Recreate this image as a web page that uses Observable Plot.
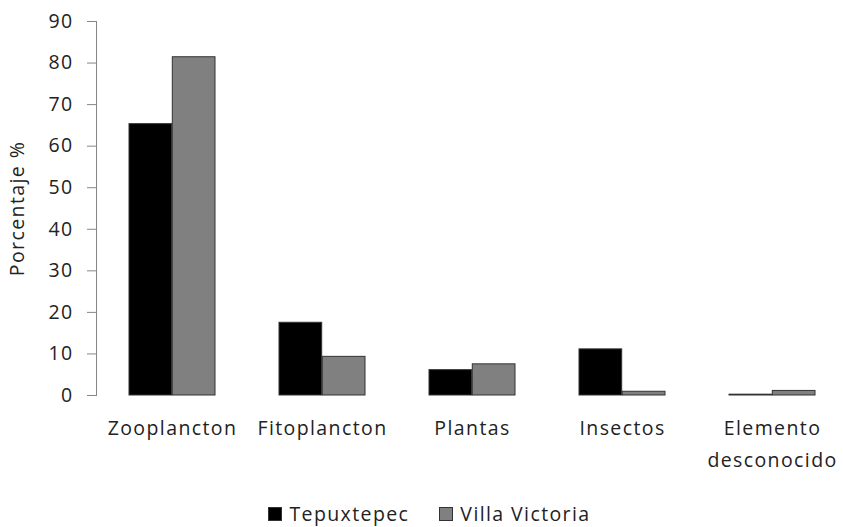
<!DOCTYPE html>
<html>
<head>
<meta charset="utf-8">
<script src="https://cdn.jsdelivr.net/npm/d3@7"></script>
<script src="https://cdn.jsdelivr.net/npm/@observablehq/plot@0.6"></script>
<style>
  html, body { margin: 0; padding: 0; background: #ffffff; }
  body { width: 843px; height: 527px; overflow: hidden; font-family: "Open Sans", sans-serif; }
  #chart svg text { letter-spacing: 1.4px; }
  #legend { box-sizing: border-box; display: flex; justify-content: center; align-items: center; gap: 30px; height: 37px; padding-top: 10px; padding-left: 16px; font-size: 19.5px; letter-spacing: 1.4px; color: #222; }
  .item { display: flex; align-items: center; gap: 7px; }
  .sw { width: 12px; height: 12px; border: 1px solid #333; }
</style>
</head>
<body>
<div id="chart"></div>
<div id="legend"></div>
<script>
const categories = ["Zooplancton", "Fitoplancton", "Plantas", "Insectos", "Elemento\ndesconocido"];
const seriesNames = ["Tepuxtepec", "Villa Victoria"];
const tepuxtepec = [65.3, 17.5, 6.1, 11.1, 0.2];
const villaVictoria = [81.4, 9.3, 7.5, 0.9, 1.1];
const yTicks = [0, 10, 20, 30, 40, 50, 60, 70, 80, 90];
const colors = ["#000000", "#808080"];

const dataT = categories.map((c, i) => ({category: c, value: tepuxtepec[i]}));
const dataV = categories.map((c, i) => ({category: c, value: villaVictoria[i]}));

const half = 43.3;
const chart = Plot.plot({
  width: 843,
  height: 490,
  marginTop: 21,
  marginBottom: 95,
  marginLeft: 96,
  marginRight: 0,
  style: {fontFamily: "Open Sans, sans-serif", fontSize: "19.5px", color: "#222", background: "#ffffff"},
  x: {domain: categories, range: [96, 849], paddingInner: 0.425, paddingOuter: 0.2125},
  y: {domain: [0, 90], range: [395, 21]},
  marks: [
    Plot.frame({anchor: "left", stroke: "#868686"}),
    Plot.axisY({ticks: yTicks, tickSize: 9, tickPadding: 14, stroke: "#868686", fill: "#222", fontSize: 19.5,
      label: "Porcentaje %", labelAnchor: "center", labelArrow: false, labelOffset: 86}),
    Plot.axisX({tickSize: 0, tickPadding: 17, fontSize: 19.5, fill: "#222", lineHeight: 1.62, label: null}),
    Plot.barY(dataT, {x: "category", y: "value", fill: colors[0], stroke: "#333", strokeWidth: 1, insetRight: half}),
    Plot.barY(dataV, {x: "category", y: "value", fill: colors[1], stroke: "#333", strokeWidth: 1, insetLeft: half})
  ]
});
document.getElementById("chart").appendChild(chart);

const legend = document.getElementById("legend");
seriesNames.forEach((s, i) => {
  const it = document.createElement("div");
  it.className = "item";
  it.innerHTML = `<span class="sw" style="background:${colors[i]}"></span><span>${s}</span>`;
  legend.appendChild(it);
});
</script>
</body>
</html>
